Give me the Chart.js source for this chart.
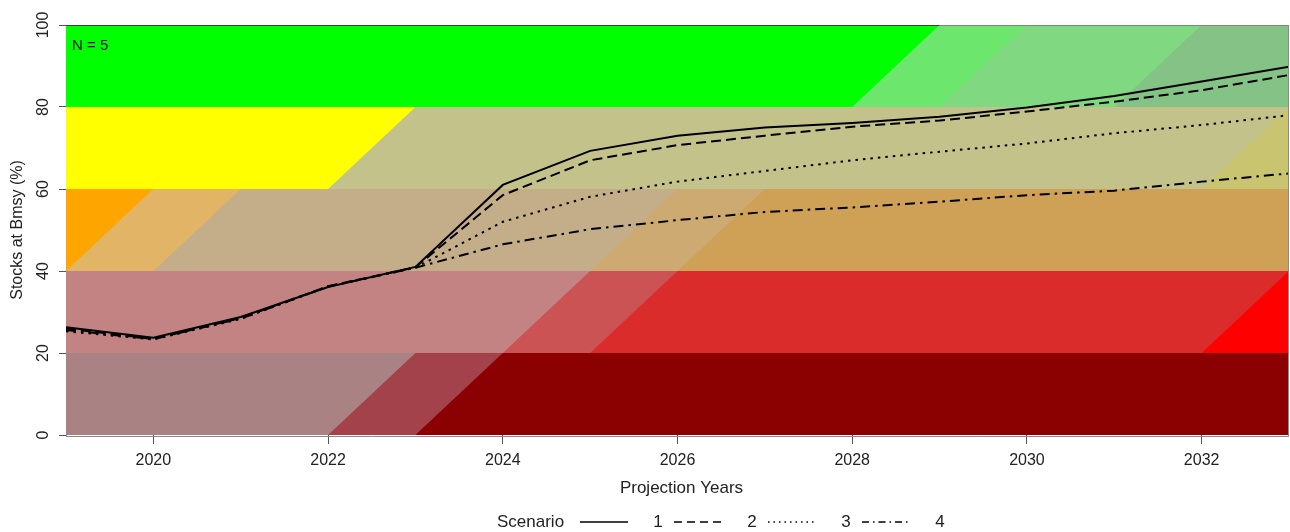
<!DOCTYPE html>
<html>
<head>
<meta charset="utf-8">
<script src="https://cdn.jsdelivr.net/npm/chart.js@4.4.1/dist/chart.umd.min.js"></script>
<style>
  html, body { margin: 0; padding: 0; background: #ffffff; }
  #wrap { width: 1290px; height: 532px; position: relative; }
</style>
</head>
<body>
<div id="wrap"><canvas id="chart" width="1290" height="532"></canvas></div>
<script>
// Projection years and the four scenario trajectories (% of stocks at Bmsy)
const years = [2019, 2020, 2021, 2022, 2023, 2024, 2025, 2026, 2027, 2028, 2029, 2030, 2031, 2032, 2033];
const scenario1 = [26.3, 23.7, 28.8, 36.1, 41.0, 61.0, 69.3, 73.0, 75.0, 76.1, 77.6, 79.9, 82.7, 86.2, 89.8];
const scenario2 = [26.0, 23.4, 28.5, 36.3, 40.9, 58.5, 67.0, 70.7, 73.0, 75.2, 76.7, 78.9, 81.3, 84.1, 87.8];
const scenario3 = [25.3, 23.3, 28.3, 36.2, 40.8, 52.0, 58.1, 61.8, 64.4, 67.0, 69.1, 71.1, 73.6, 75.6, 78.0];
const scenario4 = [25.6, 23.4, 28.4, 36.2, 40.8, 46.5, 50.2, 52.4, 54.4, 55.5, 56.9, 58.5, 59.6, 61.8, 63.8];
const scenarioNames = ['1', '2', '3', '4'];

// Axis ticks
const xTicks = [2020, 2022, 2024, 2026, 2028, 2030, 2032];
const yTicks = [0, 20, 40, 60, 80, 100];

// Status bands (y range) and the diagonal boundaries inside each band.
// A boundary is given by the year at which it would cross 0 %, rising 20 % per year.
const bandEdges = [0, 20, 40, 60, 80, 100];
const diagSlope = 20;
const bandBreaks = [
  [2022, 2023],
  [2023, 2024, 2031],
  [2017, 2018, 2023, 2024],
  [2019, 2029],
  [2024, 2025, 2027]
];
const bandColors = [
  ['#a98383', '#a3424a', '#8b0000'],
  ['#c48383', '#cc5353', '#db2c2c', '#ff0000'],
  ['#ffa500', '#e2b566', '#c4ae89', '#cdaa72', '#cea157'],
  ['#ffff00', '#c4c28b', '#c9c46f'],
  ['#00ff00', '#6ce66c', '#80d880', '#85c285']
];

const FONT = '"Liberation Sans", Arial, Helvetica, sans-serif';

const backgroundBands = {
  id: 'backgroundBands',
  beforeDatasetsDraw(chart) {
    const { ctx, chartArea: a, scales: { x, y } } = chart;
    ctx.save();
    ctx.beginPath();
    ctx.rect(a.left, a.top, a.right - a.left, a.bottom - a.top);
    ctx.clip();
    for (let b = 0; b < bandColors.length; b++) {
      const lo = bandEdges[b], hi = bandEdges[b + 1];
      const cols = bandColors[b], brk = bandBreaks[b];
      for (let i = 0; i < cols.length; i++) {
        const k1 = i === 0 ? 1900 : brk[i - 1];
        const k2 = 2100;
        ctx.beginPath();
        ctx.moveTo(x.getPixelForValue(k1 + lo / diagSlope), y.getPixelForValue(lo));
        ctx.lineTo(x.getPixelForValue(k2 + lo / diagSlope), y.getPixelForValue(lo));
        ctx.lineTo(x.getPixelForValue(k2 + hi / diagSlope), y.getPixelForValue(hi));
        ctx.lineTo(x.getPixelForValue(k1 + hi / diagSlope), y.getPixelForValue(hi));
        ctx.closePath();
        ctx.fillStyle = cols[i];
        ctx.fill();
      }
    }
    // top edge of the frame, darker across the untouched green part
    const yTop = y.getPixelForValue(100);
    const xSplit = x.getPixelForValue(bandBreaks[4][0] + 100 / diagSlope);
    ctx.lineWidth = 2;
    ctx.strokeStyle = '#1d541d';
    ctx.beginPath(); ctx.moveTo(a.left, yTop); ctx.lineTo(xSplit, yTop); ctx.stroke();
    ctx.strokeStyle = '#6f8f6f';
    ctx.beginPath(); ctx.moveTo(xSplit, yTop); ctx.lineTo(a.right, yTop); ctx.stroke();
    ctx.restore();

    ctx.save();
    ctx.fillStyle = '#111';
    ctx.font = '15px ' + FONT;
    ctx.textAlign = 'left';
    ctx.textBaseline = 'middle';
    ctx.fillText('N = 5', a.left + 6, a.top + 21);
    ctx.restore();
  },
  afterDraw(chart) {
    const { ctx, chartArea: a, scales: { x, y } } = chart;
    ctx.save();
    // frame
    ctx.strokeStyle = '#8a8a8a';
    ctx.lineWidth = 1;
    ctx.beginPath();
    ctx.moveTo(a.right - 0.5, a.top + 1);
    ctx.lineTo(a.right - 0.5, a.bottom + 1.5);
    ctx.lineTo(a.left, a.bottom + 1.5);
    ctx.stroke();

    // y tick labels, rotated like the axis title
    ctx.fillStyle = '#222';
    ctx.font = '16px ' + FONT;
    ctx.textAlign = 'center';
    ctx.textBaseline = 'middle';
    yTicks.forEach(v => {
      ctx.save();
      ctx.translate(44, y.getPixelForValue(v));
      ctx.rotate(-Math.PI / 2);
      ctx.fillText(String(v), 0, 0);
      ctx.restore();
    });

    // axis titles
    ctx.font = '16px ' + FONT;
    ctx.save();
    ctx.translate(18, (a.top + a.bottom) / 2);
    ctx.rotate(-Math.PI / 2);
    ctx.fillText('Stocks at Bmsy (%)', 0, 0);
    ctx.restore();
    ctx.font = '17px ' + FONT;
    ctx.fillText('Projection Years', (a.left + a.right) / 2 + 4, 488);

    // legend row
    const ly = 522;
    ctx.font = '17px ' + FONT;
    ctx.textAlign = 'left';
    ctx.fillText('Scenario', 497, ly);
    const metas = chart.data.datasets;
    let lx = 580;
    metas.forEach((ds, i) => {
      ctx.save();
      ctx.strokeStyle = '#000';
      ctx.lineWidth = 1.3;
      ctx.setLineDash(ds.legendDash || []);
      ctx.beginPath();
      ctx.moveTo(lx, ly);
      ctx.lineTo(lx + 48, ly);
      ctx.stroke();
      ctx.restore();
      ctx.textAlign = 'center';
      ctx.fillText(scenarioNames[i], lx + 78, ly);
      lx += 94;
    });
    ctx.restore();
  }
};

const seriesStyle = [
  { data: scenario1, dash: [], legendDash: [] },
  { data: scenario2, dash: [10, 5], legendDash: [8, 5] },
  { data: scenario3, dash: [2.5, 5], legendDash: [1.5, 4] },
  { data: scenario4, dash: [10, 5, 2.5, 5], legendDash: [7, 4, 1.5, 4] }
];

new Chart(document.getElementById('chart'), {
  type: 'line',
  data: {
    datasets: seriesStyle.map((s, i) => ({
      label: scenarioNames[i],
      data: years.map((yr, j) => ({ x: yr, y: s.data[j] })),
      borderColor: '#000000',
      borderWidth: 2,
      borderDash: s.dash,
      legendDash: s.legendDash,
      pointRadius: 0,
      tension: 0,
      fill: false
    }))
  },
  options: {
    responsive: false,
    animation: false,
    devicePixelRatio: 1,
    layout: { padding: { top: 25, right: 1, left: 0, bottom: 0 } },
    plugins: { legend: { display: false }, tooltip: { enabled: false } },
    scales: {
      x: {
        type: 'linear',
        min: 2019,
        max: 2033,
        afterBuildTicks: s => { s.ticks = xTicks.map(v => ({ value: v })); },
        afterFit: s => { s.height = 97; },
        grid: { drawOnChartArea: false, drawTicks: true, tickLength: 9, color: '#555' },
        border: { display: false },
        ticks: { font: { family: FONT, size: 16 }, color: '#222', padding: 7, maxRotation: 0, autoSkip: false,
                 callback: v => String(v) }
      },
      y: {
        type: 'linear',
        min: 0,
        max: 100,
        afterBuildTicks: s => { s.ticks = yTicks.map(v => ({ value: v })); },
        afterFit: s => { s.width = 66; },
        grid: { drawOnChartArea: false, drawTicks: true, tickLength: 7, color: '#555' },
        border: { display: true, color: '#8a8a8a', width: 1 },
        ticks: { display: false }
      }
    }
  },
  plugins: [backgroundBands]
});
</script>
</body>
</html>
